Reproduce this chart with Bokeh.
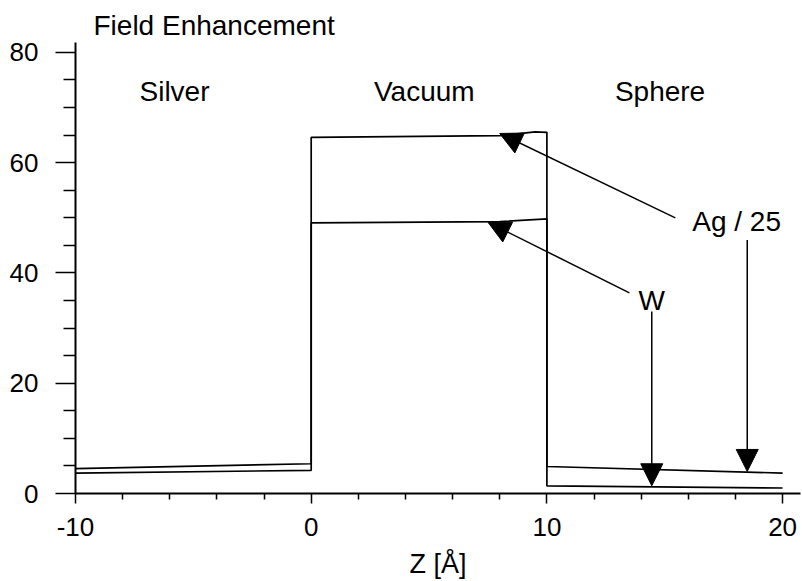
from bokeh.plotting import figure
from bokeh.models import Range1d, FixedTicker, Arrow, NormalHead, Label, Title
from bokeh.embed import file_html
from bokeh.resources import INLINE

# ---- data ----
z_ag = [-10, 0, 0, 8, 9.5, 10, 10, 20]
ag_25 = [4.5, 5.4, 64.6, 64.9, 65.6, 65.5, 4.9, 3.7]
z_w = [-10, 0, 0, 8, 10, 10, 20]
w = [3.7, 4.2, 49.1, 49.3, 49.8, 1.4, 1.0]

x_major = [-10, 0, 10, 20]
x_minor = [-8, -6, -4, -2, 2, 4, 6, 8, 12, 14, 16, 18]
x_labels = {-10: "-10", 0: "0", 10: "10", 20: "20"}
y_major = [0, 20, 40, 60, 80]
y_minor = [5, 10, 15, 25, 30, 35, 45, 50, 55, 65, 70, 75]

region_names = ["Silver", "Vacuum", "Sphere"]
region_x = [-5.8, 4.8, 14.8]
region_y = [72.9, 72.9, 72.9]

# arrows (start x, start y, end x, end y) in data units
arrow_x0 = [15.45, 18.5, 13.5, 14.45]
arrow_y0 = [50.0, 46.0, 36.4, 33.0]
arrow_x1 = [8.0, 18.5, 7.5, 14.45]
arrow_y1 = [65.3, 4.0, 49.2, 1.4]

series_labels = ["Ag / 25", "W"]
series_label_x = [18.05, 14.45]
series_label_y = [49.3, 35.0]

FONT = "Liberation Sans"

p = figure(width=802, height=581, output_backend="svg", toolbar_location=None,
           x_range=Range1d(-10, 20.76), y_range=Range1d(0, 81.8),
           min_border_left=75, min_border_right=2, min_border_bottom=88,
           min_border_top=42)
p.title = Title(text="Field Enhancement", align="left", offset=18,
                text_font=FONT, text_font_size="28px", text_font_style="normal",
                text_color="black", standoff=3)
p.outline_line_color = None
p.xgrid.visible = False
p.ygrid.visible = False

p.line(z_ag, ag_25, line_color="black", line_width=1.7)
p.line(z_w, w, line_color="black", line_width=1.7)

for ax in (p.xaxis[0], p.yaxis[0]):
    ax.axis_line_width = 2
    ax.axis_line_color = "black"
    ax.major_tick_line_color = "black"
    ax.minor_tick_line_color = "black"
    ax.major_tick_line_width = 1.5
    ax.minor_tick_line_width = 1.5
    ax.major_tick_in = 0
    ax.minor_tick_in = 0
    ax.major_label_text_font = FONT
    ax.major_label_text_font_size = "26px"
    ax.major_label_text_color = "black"

p.xaxis.ticker = FixedTicker(ticks=x_major, minor_ticks=x_minor)
p.xaxis.major_label_overrides = x_labels
p.yaxis.ticker = FixedTicker(ticks=y_major, minor_ticks=y_minor)
p.xaxis.major_tick_out = 10
p.xaxis.minor_tick_out = 6
p.yaxis.major_tick_out = 20
p.yaxis.minor_tick_out = 12
p.xaxis.major_label_standoff = 14
p.yaxis.major_label_standoff = 17

p.xaxis.axis_label = "Z [Å]"
p.xaxis.axis_label_text_font = FONT
p.xaxis.axis_label_text_font_size = "27px"
p.xaxis.axis_label_text_font_style = "normal"
p.xaxis.axis_label_text_color = "black"
p.xaxis.axis_label_standoff = 10

for name, x, y in zip(region_names, region_x, region_y):
    p.add_layout(Label(x=x, y=y, text=name, text_font=FONT, text_font_size="28px",
                       text_align="center", text_baseline="middle", text_color="black"))

for name, x, y in zip(series_labels, series_label_x, series_label_y):
    p.add_layout(Label(x=x, y=y, text=name, text_font=FONT, text_font_size="28px",
                       text_align="center", text_baseline="middle", text_color="black"))

for x0, y0, x1, y1 in zip(arrow_x0, arrow_y0, arrow_x1, arrow_y1):
    p.add_layout(Arrow(x_start=x0, y_start=y0, x_end=x1, y_end=y1,
                       line_color="black", line_width=1.5,
                       end=NormalHead(size=22, fill_color="black", line_color="black",
                                      line_width=1)))

open("out.html", "w").write(file_html(p, INLINE))
